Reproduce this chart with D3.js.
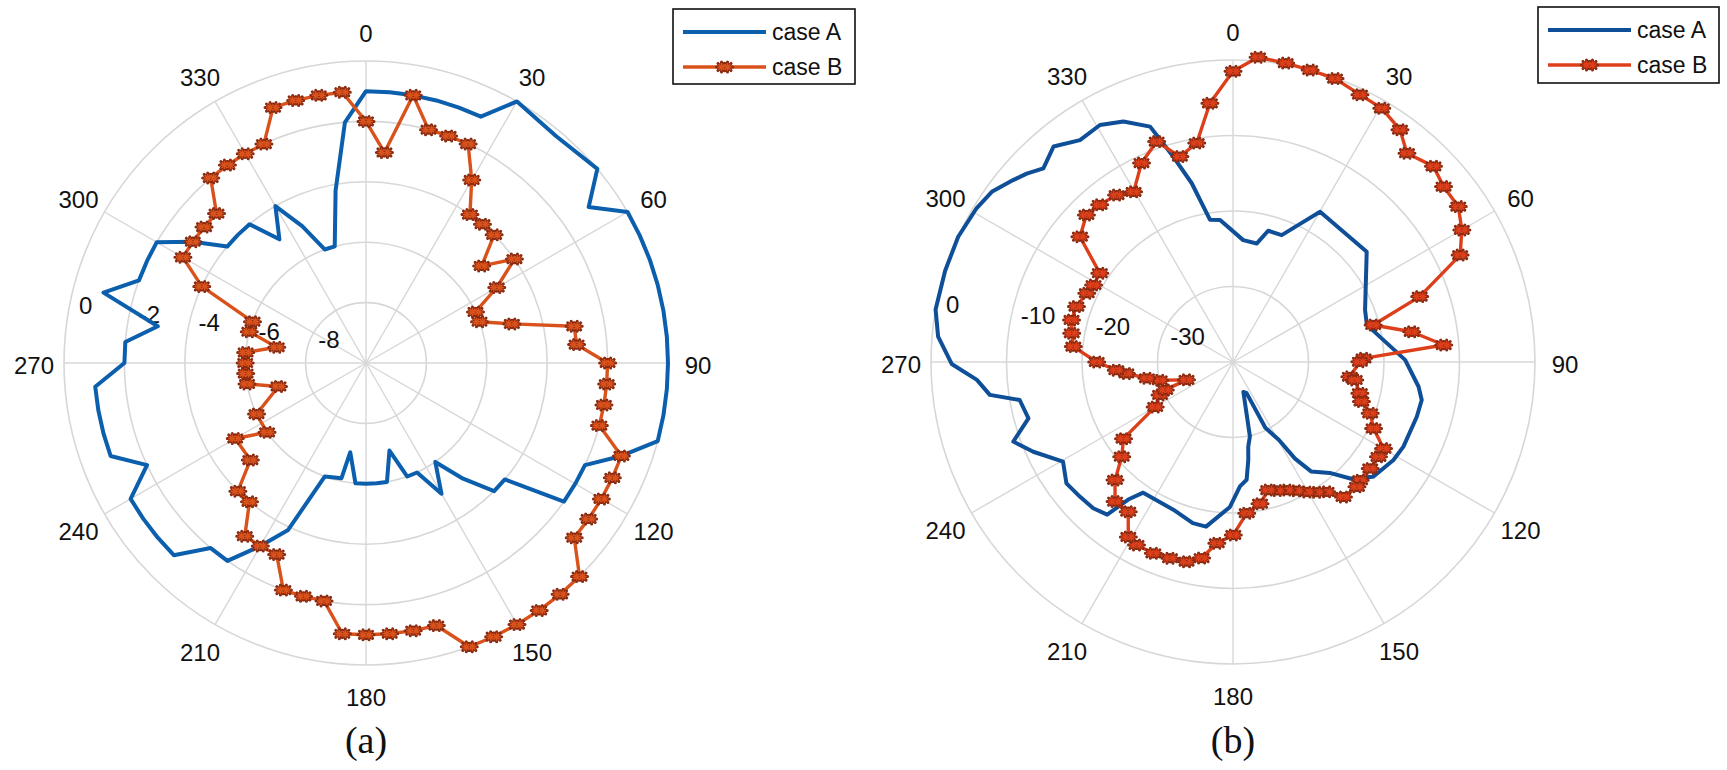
<!DOCTYPE html>
<html><head><meta charset="utf-8">
<script src="https://cdn.jsdelivr.net/npm/d3@7"></script>
<style>body{margin:0;background:#fff}svg{display:block}</style>
</head><body>
<svg id="c" width="1727" height="770"></svg>
<script>
// ---------- data ----------
const thetaTicks = [0,30,60,90,120,150,180,210,240,270,300,330];
const rTicksA = [-8,-6,-4,-2,0];
const rTicksB = [-30,-20,-10,0];
const legendLabels = ["case A","case B"];
const captions = ["(a)","(b)"];

// panel (a), case A (degrees, dB)
const aCaseATheta = [0,5,10,15,20,25,30,40,50,55,60,65,70,75,80,85,90,95,100,105,
  110,115,120,125,130,135,140,145,150,155,160,165,170,175,180,185,190,192,
  200,205,210,215,220,225,230,235,240,245,250,255,260,265,270,275,280,285,290,295,
  300,305,310,315,320,325,330,335,340,345,350,355];
const aCaseAValue = [-1,-1,-1,-1,-1,-1,0,-0.2,0,-1,0,0,0,0,0,0,0,0,0,0,
  -1,-2,-2,-2,-4,-4,-5,-6,-5,-6,-6,-7,-6,-6,-6,-6,-7,-6.1,
  -6,-3.9,-3,-2,-2,-1,-1,-1,-1,-2,-1,-1,-1,-1,-2,-2,-3,-1,-2,-2,
  -2,-3,-4,-4,-4,-5,-4,-5,-6,-6,-4.2,-2];

// panel (a), case B
const aCaseBTheta = [0,5,10,15,20,25,30,35,40,45,50,55,60,65,70,75,80,85,90,95,
  100,105,110,115,120,125,130,135,140,145,150,155,160,165,170,175,180,185,190,195,
  200,205,210,215,220,225,230,240,235,245,255,260,265,270,275,280,285,290,295,
  300,305,310,315,320,325,330,335,340,345,350,355];
const aCaseBValue = [-2,-3,-1,-2,-2,-2,-3,-4,-4,-4,-5,-4,-5,-6,-6,-5,-3,-3,-2,-2,
  -2,-2,-1,-1,-1,-1,-1,0,0,0,0,0,0,-1,-1,-1,-1,-1,-2,-2,
  -2,-3,-3,-3,-4,-4,-5,-5,-6,-6,-7,-6,-6,-6,-6,-7,-6,-6,-4,
  -3,-3,-3,-3,-2,-2,-2,-2,-1,-1,-1,-1];

// panel (b), case A
const bCaseATheta = [4.8,11.3,15,21,27.4,30.1,50.5,68.5,74.5,89.3,97.6,101.4,106.6,116.4,121.4,
  129.3,134.8,138.9,144.5,147.3,149.5,153.8,156.4,160.9,167.2,169.8,171.1,173.4,176.8,181.2,
  189.3,194,202,214.5,217.3,219.5,223.7,228.6,233.9,239.6,245.8,250.1,254.6,259.9,262.3,
  266,269.6,274.9,280,287.6,294.5,301,305.2,309.6,312.4,315.6,320.2,325.4,330.7,335.5,
  340.6,343.8,347,350.8,354.8];
const bCaseAValue = [-23.8,-24,-22,-22,-18.8,-17,-17.05,-21.2,-21.6,-17.2,-15.2,-14.5,-14.6,-14.8,-15.1,
  -16,-18.1,-20.5,-22.2,-24.8,-28,-30.3,-35.5,-35.8,-29.9,-28.6,-26.9,-24.3,-23.5,-20.8,
  -17.9,-18,-18.9,-19,-17.1,-13.8,-13.2,-13,-12.7,-13.9,-11,-9.05,-11.9,-11.3,-7.5,
  -6,-2.74,-0.8,0,0,0,-0.4,-0.9,-2.2,-3,-4.1,-2.86,-4.3,-4,-5,
  -6.95,-11.7,-15.7,-20.9,-21.1];

// panel (b), case B
const bCaseBTheta = [0,4.7,10,14.8,19.8,25.4,30.4,35.7,39.8,45.7,50.2,55.4,60,64.8,70.7,75.2,80.4,85.4,88.4,89.9,
  97.2,98.4,103.8,107.1,110.5,115.3,119.9,123.1,127.8,132.9,135.2,140.7,144.2,147.3,150.4,153.8,157.2,161,164.6,
  169.2,174.8,179.9,185.1,189.1,193.1,197.8,202.6,207.8,210.9,215,220.2,225,229.6,235,240,245.7,247.6,249,
  256,259.3,263.9,266,270,275.5,280.1,284.6,289.5,295.2,298.9,303.7,309.3,315.1,319.7,325.1,329.7,335.3,
  340.9,345.5,350.6,354.9];
const bCaseBValue = [-1.5,0.5,0.2,0,-0.1,-0.8,-1.05,-2.1,-4,-2.9,-3.7,-3.75,-5,-6.75,-13.8,-20.8,-16,-12,-22.7,-23.2,
  -24.4,-23.7,-22.7,-22.2,-20.6,-19.4,-17,-17,-17,-17,-16.7,-16.9,-18.8,-19.5,-20.2,-21,-21.6,-22,-22.4,
  -20.9,-19.9,-17.1,-15.9,-13.7,-12.85,-12.7,-12.55,-12.6,-13,-15.8,-15.8,-17.9,-20.65,-22.3,-28.1,-29.4,-30.3,-33.4,
  -30,-28.4,-25.8,-24.5,-21.95,-18.75,-18.3,-17.9,-18,-18.6,-18.9,-18.8,-13.8,-12.5,-12.7,-13.05,-13.9,-11,
  -9.1,-11.9,-10.6,-5.6];

// ---------- drawing ----------
const svg = d3.select("#c");
const FONT = "'Liberation Sans', Arial, Helvetica, sans-serif";

const panels = [
  { cx:366, cy:363, R:302, rDom:[-10,0], rTicks:rTicksA, caption:captions[0],
    legend:{x:673,y:9,w:182,h:75},
    series:[
      {theta:aCaseATheta, value:aCaseAValue, color:"#0b5fad", width:4, marker:false},
      {theta:aCaseBTheta, value:aCaseBValue, color:"#da521b", width:3.4, marker:true}
    ]},
  { cx:1233, cy:362, R:302, rDom:[-40,0], rTicks:rTicksB, caption:captions[1],
    legend:{x:1538,y:7,w:181,h:76},
    series:[
      {theta:bCaseATheta, value:bCaseAValue, color:"#0f4f98", width:4, marker:false},
      {theta:bCaseBTheta, value:bCaseBValue, color:"#de3f1b", width:3.4, marker:true}
    ]}
];

// double asterisk marker glyph
function asterisk(s, ox){
  const d = s*0.707;
  return `M${ox-s},0H${ox+s}M${ox},${-s}V${s}M${ox-d},${-d}L${ox+d},${d}M${ox-d},${d}L${ox+d},${-d}`;
}
function markerPath(s){ return asterisk(s,-3) + asterisk(s,3); }

function drawMarker(sel, x, y, color){
  sel.append("path").attr("d", markerPath(5))
    .attr("transform",`translate(${x},${y})`)
    .attr("stroke","#8a2a10").attr("stroke-width",3).attr("fill","none")
    .attr("stroke-linecap","round");
  sel.append("path").attr("d", markerPath(4))
    .attr("transform",`translate(${x},${y})`)
    .attr("stroke",color).attr("stroke-width",1.5).attr("fill","none");
}

panels.forEach(p => {
  const g = svg.append("g").attr("transform", `translate(${p.cx},${p.cy})`);
  const aScale = d3.scaleLinear().domain([0,360]).range([0, 2*Math.PI]);
  const rScale = d3.scaleLinear().domain(p.rDom).range([0, p.R]);

  // grid rings
  g.selectAll("circle.ring").data(p.rTicks).join("circle")
    .attr("r", d => rScale(d)).attr("fill","none")
    .attr("stroke","#d7d7d7").attr("stroke-width",1.6);
  // spokes
  g.selectAll("line.spoke").data(thetaTicks).join("line")
    .attr("x1",0).attr("y1",0)
    .attr("x2", d => p.R*Math.sin(aScale(d)))
    .attr("y2", d => -p.R*Math.cos(aScale(d)))
    .attr("stroke","#d7d7d7").attr("stroke-width",1.4);

  // theta labels
  const LR = p.R + 30;
  g.selectAll("text.th").data(thetaTicks).join("text")
    .attr("x", d => LR*Math.sin(aScale(d)))
    .attr("y", d => -LR*Math.cos(aScale(d)) + 2)
    .attr("text-anchor","middle").attr("dominant-baseline","central")
    .attr("font-family",FONT).attr("font-size",24).attr("fill","#111")
    .text(d => d);

  // r labels
  const phi = 8*Math.PI/180;
  g.selectAll("text.rl").data(p.rTicks).join("text")
    .attr("x", d => -rScale(d)*Math.cos(phi) + 12)
    .attr("y", d => -rScale(d)*Math.sin(phi) - 15)
    .attr("text-anchor","start").attr("dominant-baseline","central")
    .attr("font-family",FONT).attr("font-size",24).attr("fill","#111")
    .text(d => String(d));

  // series
  p.series.forEach(s => {
    const pts = s.theta.map((t,i) => [t, s.value[i]]);
    const line = d3.lineRadial()
      .angle(d => aScale(d[0])).radius(d => rScale(d[1]))
      .curve(d3.curveLinearClosed);
    g.append("path").attr("d", line(pts)).attr("fill","none")
      .attr("stroke", s.color).attr("stroke-width", s.width)
      .attr("stroke-linejoin","round");
    if (s.marker) {
      const mk = g.append("g");
      pts.forEach(d => {
        const a = aScale(d[0]), r = rScale(d[1]);
        drawMarker(mk, r*Math.sin(a), -r*Math.cos(a), s.color);
      });
    }
  });

  // legend
  const L = p.legend;
  const lg = svg.append("g");
  lg.append("rect").attr("x",L.x).attr("y",L.y).attr("width",L.w).attr("height",L.h)
    .attr("fill","#fff").attr("stroke","#111").attr("stroke-width",1.6);
  p.series.forEach((s,i) => {
    const yy = L.y + 23 + i*35;
    lg.append("line").attr("x1",L.x+10).attr("x2",L.x+93).attr("y1",yy).attr("y2",yy)
      .attr("stroke",s.color).attr("stroke-width",s.width);
    if (s.marker) drawMarker(lg, L.x + 51.5, yy, s.color);
    lg.append("text").attr("x",L.x+99).attr("y",yy)
      .attr("dominant-baseline","central")
      .attr("font-family",FONT).attr("font-size",23).attr("fill","#111")
      .text(legendLabels[i]);
  });

  // caption
  svg.append("text").attr("x",p.cx).attr("y",753)
    .attr("text-anchor","middle")
    .attr("font-family","'Liberation Serif', 'Times New Roman', serif")
    .attr("font-size",38).attr("fill","#111")
    .text(p.caption);
});
</script>
</body></html>
